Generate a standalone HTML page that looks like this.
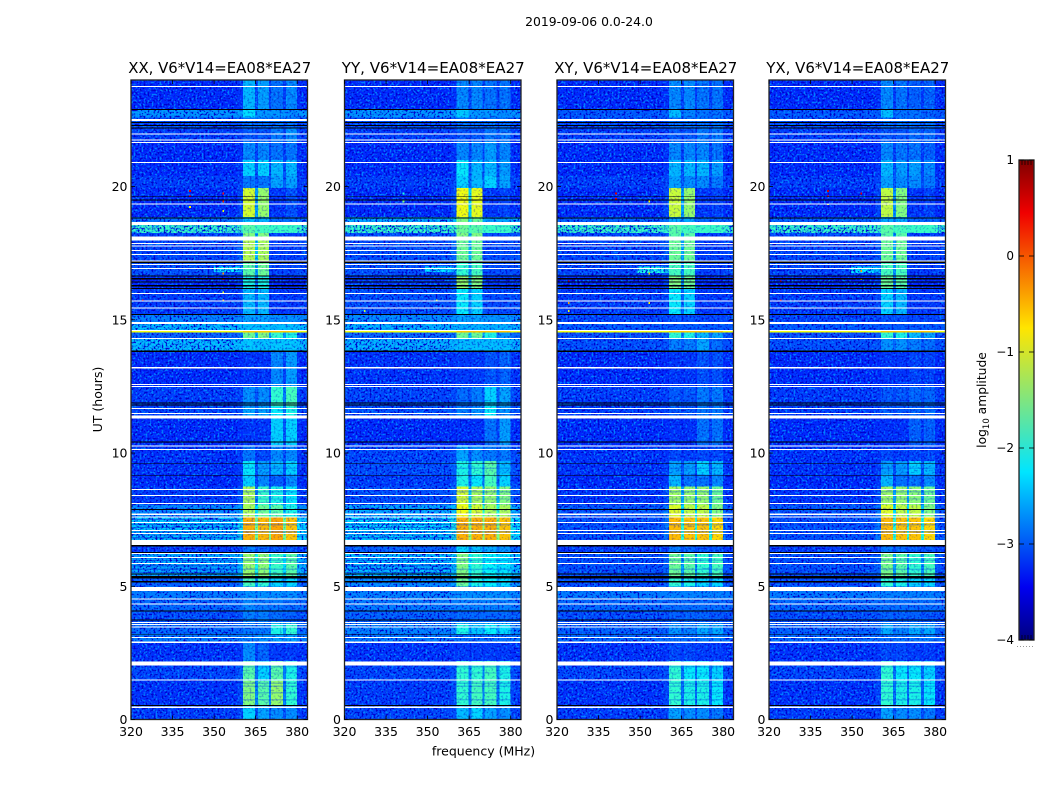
<!DOCTYPE html>
<html lang="en">
<head>
<meta charset="utf-8">
<title>2019-09-06 amplitude waterfall</title>
<style>
html,body{margin:0;padding:0;background:#fff;width:1050px;height:800px;overflow:hidden}
svg{display:block}
text{font-family:"DejaVu Sans","Liberation Sans",sans-serif;fill:#000}
</style>
</head>
<body>
<svg id="fig" width="1050" height="800" viewBox="0 0 1050 800" xmlns="http://www.w3.org/2000/svg">
  <defs>
    <filter id="speckleLight" x="0" y="0" width="100%" height="100%" color-interpolation-filters="sRGB">
      <feTurbulence type="fractalNoise" baseFrequency="0.5" numOctaves="1" seed="4"/>
      <feColorMatrix type="matrix" values="0 0 0 0 0  0 0 0 0 0.5  0 0 0 0 1  5 0 0 0 -2.4"/>
    </filter>
    <filter id="speckleDark" x="0" y="0" width="100%" height="100%" color-interpolation-filters="sRGB">
      <feTurbulence type="fractalNoise" baseFrequency="0.5" numOctaves="1" seed="11"/>
      <feColorMatrix type="matrix" values="0 0 0 0 0  0 0 0 0 0  0 0 0 0 0.8  0 5 0 0 -2.5"/>
    </filter>
    <linearGradient id="jetGradient" x1="0" y1="1" x2="0" y2="0"></linearGradient>
  </defs>
  <text x="589" y="26" font-size="12.4" text-anchor="middle">2019-09-06 0.0-24.0</text>
  <text transform="translate(102,399.5) rotate(-90)" font-size="12.5" text-anchor="middle">UT (hours)</text>
  <text x="483.5" y="755.5" font-size="12.5" text-anchor="middle">frequency (MHz)</text>
  <g id="panels"></g>
  <g id="colorbar"></g>
  <text transform="translate(986,400) rotate(-90)" font-size="12.3" text-anchor="middle">log<tspan font-size="8.5" dy="3">10</tspan><tspan dy="-3"> amplitude</tspan></text>
</svg>
<script>
// ---------- chart data ----------
var frequencyTicks = [320, 335, 350, 365, 380];
var hourTicks = [0, 5, 10, 15, 20];
var colorTicks = [-4, -3, -2, -1, 0, 1];
var panelNames = ["XX", "YY", "XY", "YX"];
var baselineLabel = "V6*V14=EA08*EA27";

// Spectral windows in MHz: [low, high]
var windowEdges = [[360.4, 364.8], [365.8, 369.8], [370.5, 374.9], [376, 380]];

// Rows: [start hour, end hour, background, window1, window2, window3, window4] log10 amplitude
var seriesXX = [
[0,0.5,-3.1,-2.2,-2.4,-2.5,-2.5],[0.5,1.45,-3.15,-1.5,-1.7,-1.4,-1.9],[1.45,2.2,-3.05,-1.7,-2.2,-1.7,-2.0],
[2.2,2.9,-3.15,-2.5,-2.7,-3.0,-3.0],[2.9,3.2,-2.75,-2.7,-2.6,-2.5,-2.5],[3.2,3.6,-2.85,-2.7,-2.7,-2.0,-1.9],
[3.6,4.1,-3.0,-2.6,-2.6,-2.7,-2.8],[4.1,4.5,-2.85,-2.6,-2.7,-2.7,-2.8],[4.5,5.0,-2.75,-2.6,-2.6,-2.6,-2.6],
[5.0,5.35,-2.9,-1.8,-1.9,-2.2,-2.2],[5.35,6.25,-2.5,-1.4,-1.45,-1.85,-1.7],[6.25,6.55,-3.1,-2.6,-2.7,-2.8,-2.8],
[6.55,7.6,-2.35,-0.5,-0.55,-0.45,-0.6],[7.6,8.05,-2.65,-1.3,-1.6,-1.7,-2.0],[8.05,8.75,-3.1,-1.3,-1.85,-2.0,-2.1],
[8.75,9.2,-3.2,-2.2,-2.5,-2.7,-2.5],[9.2,9.7,-3.15,-2.1,-2.4,-2.3,-2.2],[9.7,10.3,-3.15,-2.6,-2.9,-2.5,-2.5],
[10.3,11.3,-3.2,-3.0,-3.0,-2.2,-2.2],[11.3,11.75,-3.05,-2.4,-2.4,-2.1,-2.0],[11.75,12.5,-3.1,-2.5,-2.5,-1.9,-1.8],
[12.5,13.8,-3.2,-3.0,-3.0,-2.5,-2.4],[13.8,14.3,-2.4,-2.35,-2.4,-2.35,-2.35],[14.3,14.55,-2.9,-1.6,-1.5,-1.9,-2.0],
[14.55,14.9,-2.4,-2.4,-2.4,-2.4,-2.4],[14.9,15.2,-2.7,-2.5,-2.5,-2.6,-2.6],[15.2,16.2,-3.1,-2.3,-2.3,-3.1,-3.1],
[16.2,16.65,-3.2,-2.0,-2.0,-3.2,-3.2],[16.65,17.2,-3.0,-1.7,-1.6,-3.1,-3.1],[17.2,18.0,-3.05,-1.25,-1.3,-3.1,-3.1],
[18.0,18.25,-3.05,-1.5,-1.5,-3.1,-3.1],[18.25,18.55,-1.85,-1.7,-1.8,-1.85,-1.85],[18.55,18.85,-2.8,-2.3,-2.4,-2.8,-2.8],
[18.85,19.95,-3.2,-1.1,-1.4,-3.0,-2.8],[19.95,20.4,-3.1,-2.6,-2.6,-2.4,-2.4],[20.4,21,-3.2,-2.2,-2.2,-2.3,-2.3],
[21,21.7,-3.2,-2.5,-2.5,-2.6,-2.6],[21.7,22.2,-3.1,-2.8,-2.8,-2.6,-2.5],[22.2,22.6,-3.0,-2.7,-2.7,-2.7,-2.7],
[22.6,22.9,-2.6,-2.2,-2.6,-2.6,-2.7],[22.9,24,-3.2,-2.3,-2.4,-2.6,-2.5]];
var seriesYY = [
[0,0.5,-3.05,-2.3,-2.2,-2.4,-2.5],[0.5,1.45,-3.1,-1.9,-1.8,-1.8,-2.0],[1.45,2.2,-3.05,-1.9,-1.9,-1.8,-2.0],
[2.2,2.9,-3.15,-3.0,-3.0,-3.0,-3.0],[2.9,3.2,-2.75,-2.9,-2.9,-2.9,-2.9],[3.2,3.6,-2.7,-2.0,-2.3,-2.1,-2.2],
[3.6,4.1,-2.9,-2.8,-2.8,-2.8,-2.8],[4.1,4.5,-2.75,-2.7,-2.7,-2.7,-2.7],[4.5,5.0,-2.7,-2.6,-2.6,-2.6,-2.6],
[5.0,5.35,-2.65,-1.6,-2.0,-2.1,-2.2],[5.35,6.25,-2.4,-1.5,-1.9,-2.1,-2.2],[6.25,6.55,-2.9,-2.2,-2.3,-2.4,-2.5],
[6.55,7.6,-2.25,-0.5,-0.5,-0.5,-0.6],[7.6,8.05,-2.5,-0.95,-1.1,-1.3,-1.3],[8.05,8.75,-3.0,-1.1,-1.3,-1.4,-1.5],
[8.75,9.2,-3.1,-2.0,-2.1,-1.8,-2.2],[9.2,9.7,-3.0,-2.0,-1.9,-1.7,-2.3],[9.7,10.3,-3.05,-2.4,-2.5,-2.6,-2.6],
[10.3,11.3,-3.2,-3.1,-3.05,-2.6,-2.4],[11.3,11.75,-3.0,-2.6,-2.5,-2.1,-2.5],[11.75,12.5,-3.05,-2.7,-2.6,-2.2,-2.4],
[12.5,13.8,-3.15,-3.0,-3.0,-2.8,-2.7],[13.8,14.3,-2.45,-2.4,-2.4,-2.4,-2.4],[14.3,14.55,-2.85,-1.6,-1.6,-2.0,-2.5],
[14.55,14.9,-2.45,-2.5,-2.5,-2.5,-2.5],[14.9,15.2,-2.65,-2.5,-2.5,-2.6,-2.6],[15.2,16.2,-3.0,-2.1,-2.2,-3.0,-3.0],
[16.2,16.65,-3.1,-1.4,-1.5,-3.1,-3.1],[16.65,17.2,-3.0,-1.9,-1.8,-3.0,-3.0],[17.2,18.0,-3.0,-1.6,-1.6,-3.0,-3.0],
[18.0,18.25,-3.0,-1.5,-1.5,-3.0,-3.0],[18.25,18.55,-1.85,-1.6,-1.7,-1.85,-1.85],[18.55,18.85,-2.5,-1.5,-1.6,-2.6,-2.6],
[18.85,19.95,-3.2,-0.95,-1.0,-3.0,-2.9],[19.95,20.4,-3.1,-2.2,-2.3,-2.2,-2.4],[20.4,21,-3.2,-2.1,-2.3,-2.3,-2.4],
[21,21.7,-3.2,-2.5,-2.5,-2.4,-2.5],[21.7,22.2,-3.1,-2.8,-2.8,-2.6,-2.6],[22.2,22.6,-3.0,-2.7,-2.7,-2.7,-2.7],
[22.6,22.9,-2.6,-2.3,-2.6,-2.6,-2.7],[22.9,24,-3.2,-2.5,-2.5,-2.6,-2.6]];
var seriesXY = [
[0,0.5,-3.1,-2.4,-2.5,-2.5,-2.6],[0.5,1.45,-3.15,-1.9,-2.0,-2.0,-2.1],[1.45,2.2,-3.05,-1.9,-2.1,-2.1,-2.2],
[2.2,2.9,-3.15,-2.9,-2.9,-3.0,-3.0],[2.9,3.2,-2.85,-2.8,-2.8,-2.7,-2.7],[3.2,3.6,-2.9,-2.5,-2.6,-2.4,-2.4],
[3.6,4.1,-3.0,-2.8,-2.8,-2.8,-2.9],[4.1,4.5,-2.85,-2.8,-2.8,-2.8,-2.8],[4.5,5.0,-2.75,-2.7,-2.7,-2.7,-2.7],
[5.0,5.35,-3.0,-1.9,-2.0,-2.2,-2.2],[5.35,6.25,-3.0,-1.6,-1.7,-1.9,-1.8],[6.25,6.55,-3.1,-2.6,-2.7,-2.8,-2.8],
[6.55,7.6,-3.0,-0.55,-0.6,-0.6,-0.7],[7.6,8.05,-2.95,-1.05,-1.2,-1.2,-1.5],[8.05,8.75,-3.15,-1.35,-1.4,-1.4,-1.6],
[8.75,9.2,-3.2,-2.3,-2.6,-2.6,-2.5],[9.2,9.7,-3.15,-2.4,-2.4,-2.2,-2.3],[9.7,10.3,-3.15,-2.9,-3.0,-2.9,-2.9],
[10.3,11.3,-3.2,-3.05,-3.05,-2.6,-2.6],[11.3,11.75,-3.1,-2.8,-2.8,-2.6,-2.6],[11.75,12.5,-3.1,-2.8,-2.8,-2.6,-2.6],
[12.5,13.8,-3.2,-3.0,-3.0,-2.8,-2.8],[13.8,14.3,-3.0,-2.6,-2.6,-2.4,-2.7],[14.3,14.55,-3.0,-1.9,-2.0,-2.3,-2.4],
[14.55,14.9,-2.95,-2.9,-2.9,-2.9,-2.9],[14.9,15.2,-3.05,-2.9,-2.9,-3.0,-3.0],[15.2,16.2,-3.1,-2.1,-2.2,-3.1,-3.1],
[16.2,16.65,-3.2,-1.5,-1.6,-3.2,-3.2],[16.65,17.2,-3.05,-1.8,-1.8,-3.1,-3.1],[17.2,18.0,-3.05,-1.6,-1.6,-3.1,-3.1],
[18.0,18.25,-3.05,-1.7,-1.7,-3.1,-3.1],[18.25,18.55,-1.85,-1.7,-1.8,-1.85,-1.85],[18.55,18.85,-2.9,-2.4,-2.4,-2.8,-2.8],
[18.85,19.95,-3.2,-1.15,-1.4,-3.0,-2.9],[19.95,20.4,-3.1,-2.4,-2.5,-2.5,-2.6],[20.4,21,-3.2,-2.3,-2.3,-2.3,-2.4],
[21,21.7,-3.2,-2.5,-2.5,-2.5,-2.6],[21.7,22.2,-3.1,-2.8,-2.8,-2.6,-2.6],[22.2,22.6,-3.0,-2.7,-2.7,-2.7,-2.7],
[22.6,22.9,-2.95,-2.3,-2.6,-2.7,-2.7],[22.9,24,-3.2,-2.5,-2.5,-2.6,-2.6]];
var seriesYX = [
[0,0.5,-3.1,-2.4,-2.5,-2.5,-2.6],[0.5,1.45,-3.15,-1.9,-2.0,-2.0,-2.1],[1.45,2.2,-3.05,-1.9,-2.1,-2.1,-2.2],
[2.2,2.9,-3.15,-2.9,-2.9,-3.0,-3.0],[2.9,3.2,-2.85,-2.8,-2.8,-2.7,-2.7],[3.2,3.6,-2.9,-2.4,-2.6,-2.4,-2.4],
[3.6,4.1,-3.0,-2.8,-2.8,-2.8,-2.9],[4.1,4.5,-2.85,-2.8,-2.8,-2.8,-2.8],[4.5,5.0,-2.75,-2.7,-2.7,-2.7,-2.7],
[5.0,5.35,-3.0,-1.9,-2.0,-2.2,-2.2],[5.35,6.25,-3.0,-1.55,-1.7,-1.9,-1.8],[6.25,6.55,-3.1,-2.6,-2.7,-2.8,-2.8],
[6.55,7.6,-3.0,-0.55,-0.6,-0.6,-0.7],[7.6,8.05,-2.95,-1.05,-1.2,-1.2,-1.5],[8.05,8.75,-3.15,-1.35,-1.4,-1.45,-1.6],
[8.75,9.2,-3.2,-2.3,-2.6,-2.6,-2.5],[9.2,9.7,-3.15,-2.4,-2.4,-2.2,-2.3],[9.7,10.3,-3.15,-2.9,-3.0,-2.9,-2.9],
[10.3,11.3,-3.2,-3.05,-3.05,-2.7,-2.7],[11.3,11.75,-3.1,-2.8,-2.8,-2.7,-2.7],[11.75,12.5,-3.1,-2.8,-2.8,-2.7,-2.7],
[12.5,13.8,-3.2,-3.0,-3.0,-2.9,-2.9],[13.8,14.3,-3.0,-2.5,-2.5,-2.6,-2.7],[14.3,14.55,-3.0,-1.9,-2.0,-2.3,-2.4],
[14.55,14.9,-2.95,-2.9,-2.9,-2.9,-2.9],[14.9,15.2,-3.05,-2.9,-2.9,-3.0,-3.0],[15.2,16.2,-3.1,-2.2,-2.3,-3.1,-3.1],
[16.2,16.65,-3.2,-1.6,-1.7,-3.2,-3.2],[16.65,17.2,-3.05,-1.8,-1.8,-3.1,-3.1],[17.2,18.0,-3.05,-1.6,-1.6,-3.1,-3.1],
[18.0,18.25,-3.05,-1.7,-1.7,-3.1,-3.1],[18.25,18.55,-1.85,-1.7,-1.8,-1.85,-1.85],[18.55,18.85,-2.9,-2.4,-2.4,-2.8,-2.8],
[18.85,19.95,-3.2,-1.2,-1.5,-3.0,-2.9],[19.95,20.4,-3.1,-2.4,-2.5,-2.5,-2.6],[20.4,21,-3.2,-2.3,-2.4,-2.4,-2.5],
[21,21.7,-3.2,-2.5,-2.6,-2.6,-2.7],[21.7,22.2,-3.1,-2.8,-2.8,-2.7,-2.7],[22.2,22.6,-3.0,-2.7,-2.7,-2.7,-2.7],
[22.6,22.9,-2.95,-2.3,-2.7,-2.7,-2.8],[22.9,24,-3.2,-2.5,-2.6,-2.7,-2.7]];

// Flagged integrations shared by all baselines: [hour, duration in hours]
var flaggedWhite = [[0.46,.04],[1.48,.05],[2.02,.16],[2.9,.04],[3.07,.04],[3.47,.04],[3.57,.04],[3.64,.04],[4.34,.04],[4.52,.04],[4.83,.14],[5.86,.04],[6.08,.04],[6.23,.04],[6.55,.18],[6.98,.04],[7.1,.04],[7.4,.04],[7.6,.05],[7.7,.05],[8.1,.04],[8.4,.04],[8.63,.04],[10.13,.04],[10.27,.04],[11.3,.1],[11.48,.04],[11.67,.04],[12.5,.04],[12.57,.04],[13.2,.04],[14.3,.04],[14.6,.04],[14.88,.07],[15.44,.04],[15.7,.04],[15.98,.04],[16.92,.04],[17.07,.04],[17.2,.04],[17.45,.04],[17.6,.04],[17.77,.04],[17.86,.04],[17.98,.15],[18.55,.12],[19.35,.04],[20.9,.04],[21.66,.04],[21.75,.04],[21.98,.04],[22.5,.07],[23.75,.04]];
var flaggedBlack = [[0.52,.03],[3.2,.03],[3.73,.04],[4.07,.04],[5.17,.04],[5.3,.09],[5.46,.04],[6.27,.04],[6.52,.04],[7.88,.04],[9.17,.03],[9.6,.03],[10.42,.03],[11.8,.04],[11.87,.04],[13.82,.07],[15.2,.03],[16.18,.04],[16.27,.04],[16.3,.03],[16.42,.04],[16.54,.04],[16.64,.04],[17.16,.04],[18.82,.03],[19.5,.03],[19.64,.03],[22.2,.04],[22.3,.04],[22.4,.04],[22.9,.04]];

// Narrow bright RFI line near 14.5 h: [hour, background, windows]
var rfiLine = [14.53, -0.95, -0.6];
// Background ripple rows on XX and YY: hour
var rippleHours = [5.5,5.62,5.75,5.95,6.05,6.8,6.9,7.02,7.18,7.3,7.48];
// Dark ripple rows across the spectral windows: hour
var windowRippleHours = [0.72,0.98,1.22,1.33,1.72,1.95,5.62,5.95,7.02,7.28,8.25,8.52,9.4];
// Isolated hot pixels: [panel index, MHz, hour, log10 amplitude]
var hotPixels = [
[0,353,19.05,-1],[0,353,19.4,0.2],[0,353,19.7,0.3],[0,341,19.8,0.5],[0,341,19.6,0.4],[0,341,19.2,-0.8],[0,353,16.0,-1],[0,353,16.7,-0.3],[0,353,16.5,0.2],[0,324,16.5,0.6],[0,324,15.7,0.5],[0,353,15.7,-0.6],
[2,341,19.5,0.5],[2,341,19.7,0.6],[2,353,19.4,-0.9],[2,353,16.9,-2],[2,353,16.7,-0.5],[2,324,16.4,0.6],[2,324,15.6,-0.4],[2,353,15.6,-0.8],[2,324,15.3,-1],
[3,341,19.6,0.5],[3,341,19.8,0.6],[3,341,19.3,-1],[3,353,19.7,0.5],[3,353,16.8,-0.4],[3,324,16.4,0.6],[3,324,15.7,0.5],[3,353,16.5,-1],
[1,341,19.4,-1.5],[1,341,19.7,-2],[1,353,15.7,-1],[1,327,15.3,-1.2]];
// Faint interference patch near 17 h: [panel index, low MHz, high MHz, start hour, end hour, level]
var rfiPatches = [[0,350,361,16.8,17.0,-2.1],[1,349,361,16.8,17.0,-2.2],[2,349,361,16.75,17.0,-2.0],[3,349,361,16.75,17.0,-2.2]];

// ---------- layout ----------
var NS = "http://www.w3.org/2000/svg";
var panelLeft = [131, 344.5, 557, 769];
var panelWidth = 176.5;
var plotTop = 80;
var plotBottom = 719.5;
var maxHour = 24;
var minFreq = 320;
var pxPerMHz = 2.77;
var maxFreq = minFreq + panelWidth / pxPerMHz;
var panelSeries = [seriesXX, seriesYY, seriesXY, seriesYX];
var panelRipple = [true, true, false, false];

function yScale(h) { return plotBottom - (h / maxHour) * (plotBottom - plotTop); }
function xScale(i, f) { return panelLeft[i] + (f - minFreq) * pxPerMHz; }
function jet(v) {
  var t = Math.max(0, Math.min(1, (v + 4) / 5));
  function c(x) { return Math.round(255 * Math.max(0, Math.min(1, x))); }
  return "rgb(" + c(1.5 - Math.abs(4 * t - 3)) + "," + c(1.5 - Math.abs(4 * t - 2)) + "," + c(1.5 - Math.abs(4 * t - 1)) + ")";
}
function cellOpacity(v) { return Math.max(0.3, Math.min(1, 0.45 + (v + 2.9) * 0.55)); }
function el(parent, tag, attrs) {
  var e = document.createElementNS(NS, tag);
  for (var k in attrs) e.setAttribute(k, attrs[k]);
  parent.appendChild(e);
  return e;
}
function fillRect(parent, i, f0, f1, h0, h1, fill) {
  return el(parent, "rect", {
    x: xScale(i, f0), width: Math.max(0, xScale(i, f1) - xScale(i, f0)),
    y: yScale(h1), height: Math.max(0, yScale(h0) - yScale(h1)),
    fill: fill, "shape-rendering": "crispEdges"
  });
}
function flagStart(r) { return r[1] < 0.08 ? r[0] - r[1] / 2 : r[0]; }

var panelsRoot = document.getElementById("panels");
panelNames.forEach(function (name, i) {
  var L = panelLeft[i], key = name.toLowerCase();
  var g = el(panelsRoot, "g", {});
  
  

  var clip = el(g, "clipPath", { id: "clip" + i });
  el(clip, "rect", { x: L, y: plotTop, width: panelWidth, height: plotBottom - plotTop });
  var body = el(g, "g", { "clip-path": "url(#clip" + i + ")" });

  // background bands, drawn under the strong speckle
  panelSeries[i].forEach(function (row) {
    var band = fillRect(body, i, minFreq, maxFreq, row[0], row[1], jet(row[2]));
    
    
  });
  if (panelRipple[i]) {
    rippleHours.forEach(function (h) {
      var r = fillRect(body, i, minFreq, windowEdges[0][0], h, h + 0.04, "rgba(0,40,220,0.55)");
      
      
    });
  }
  rfiPatches.forEach(function (p) {
    if (p[0] !== i) return;
    var r = fillRect(body, i, p[1], p[2], p[3], p[4], jet(p[5]));
    
    
  });

  // pixel speckle texture on the background
  var n1 = el(body, "rect", { x: L, y: plotTop, width: panelWidth, height: plotBottom - plotTop, filter: "url(#speckleLight)" });
  
  
  var n2 = el(body, "rect", { x: L, y: plotTop, width: panelWidth, height: plotBottom - plotTop, filter: "url(#speckleDark)" });
  
  

  // spectral window cells, translucent when faint so the speckle shows through
  panelSeries[i].forEach(function (row) {
    var h0 = row[0], h1 = row[1], bg = row[2];
    var w = row.slice(3);
    var halo = fillRect(body, i, windowEdges[0][0] - 2, windowEdges[0][0], h0, h1, jet(bg * 0.8 + w[0] * 0.2));
    
    
    halo.setAttribute('opacity', '0.35');
    var tail = fillRect(body, i, windowEdges[3][1], windowEdges[3][1] + 1.2, h0, h1, jet(bg * 0.85 + w[3] * 0.15));
    
    
    tail.setAttribute('opacity', '0.35');
    w.forEach(function (v, k) {
      var cell = fillRect(body, i, windowEdges[k][0], windowEdges[k][1], h0, h1, jet(v));
      
      
      cell.setAttribute('opacity', cellOpacity(v));
      if (k < 3) {
        var gapLevel = bg + 0.45 * (Math.min(v, w[k + 1]) - bg);
        var gap = fillRect(body, i, windowEdges[k][1], windowEdges[k + 1][0], h0, h1, jet(gapLevel));
        
        
        gap.setAttribute('opacity', cellOpacity(gapLevel));
      }
    });
  });
  windowRippleHours.forEach(function (h) {
    var r = fillRect(body, i, windowEdges[0][0], windowEdges[3][1], h, h + 0.05, "rgba(0,70,230,0.3)");
    
    
  });

  // faint speckle over the windows
  var n3 = el(body, "rect", { x: xScale(i, windowEdges[0][0]), y: plotTop, width: (windowEdges[3][1] - windowEdges[0][0]) * pxPerMHz, height: plotBottom - plotTop, filter: "url(#speckleDark)", opacity: 0.28 });
  
  

  hotPixels.forEach(function (p) {
    if (p[0] !== i) return;
    var d = fillRect(body, i, p[1], p[1] + 0.6, p[2], p[2] + 0.07, jet(p[3]));
    
    
  });

  // RFI line
  var rl = fillRect(body, i, minFreq, maxFreq, rfiLine[0], rfiLine[0] + 0.05, jet(rfiLine[1]));
  
  
  var rw = fillRect(body, i, windowEdges[0][0], windowEdges[3][1], rfiLine[0], rfiLine[0] + 0.05, jet(rfiLine[2]));
  
  

  // flagged rows
  flaggedBlack.forEach(function (r) {
    var b = fillRect(body, i, minFreq, maxFreq, flagStart(r), flagStart(r) + r[1], "#000");
    
    
  });
  flaggedWhite.forEach(function (r) {
    var b = fillRect(body, i, minFreq, maxFreq, flagStart(r), flagStart(r) + r[1], "#fff");
    
    
  });

  // frame
  var frame = el(g, "rect", { x: L, y: plotTop, width: panelWidth, height: plotBottom - plotTop, fill: "none", stroke: "#222", "stroke-width": 1.3 });
  
  

  // x ticks
  frequencyTicks.forEach(function (f) {
    var x = xScale(i, f);
    var t1 = el(g, "line", { x1: x, x2: x, y1: plotBottom, y2: plotBottom - 4, stroke: "#000", "stroke-width": 0.8 });
    
    
    var t2 = el(g, "line", { x1: x, x2: x, y1: plotTop, y2: plotTop + 4, stroke: "#000", "stroke-width": 0.8 });
    
    
    var lab = el(g, "text", { x: x, y: 736, "font-size": 12.5, "text-anchor": "middle" });
    
    
    lab.textContent = f;
  });
  // y ticks
  hourTicks.forEach(function (h) {
    var y = yScale(h);
    var t1 = el(g, "line", { x1: L, x2: L + 4, y1: y, y2: y, stroke: "#000", "stroke-width": 0.8 });
    
    
    var t2 = el(g, "line", { x1: L + panelWidth, x2: L + panelWidth - 4, y1: y, y2: y, stroke: "#000", "stroke-width": 0.8 });
    
    
    var lab = el(g, "text", { x: L - 3.5, y: y + 4.5, "font-size": 12.5, "text-anchor": "end" });
    
    
    lab.textContent = h;
  });
  // title
  var title = el(g, "text", { x: L + panelWidth / 2 + 0.5, y: 73, "font-size": 15, "text-anchor": "middle", textLength: 183, lengthAdjust: "spacingAndGlyphs" });
  
  
  title.textContent = name + ", " + baselineLabel;
});

// ---------- colorbar ----------
var cbar = document.getElementById("colorbar");
var cbLeft = 1019, cbRight = 1034, cbTop = 160, cbBottom = 640;
function cbY(v) { return cbBottom - (v + 4) / 5 * (cbBottom - cbTop); }
var grad = document.getElementById("jetGradient");
var gradientStops = [-4, -3.45, -2.25, -0.75, 0.45, 1];
gradientStops.forEach(function (v) {
  el(grad, "stop", { offset: ((v + 4) / 5), "stop-color": jet(v) });
});
var cbRect = el(cbar, "rect", { x: cbLeft, y: cbTop, width: cbRight - cbLeft, height: cbBottom - cbTop, fill: "url(#jetGradient)", stroke: "#222", "stroke-width": 1.3 });


colorTicks.forEach(function (v) {
  var y = cbY(v);
  var a = el(cbar, "line", { x1: cbLeft, x2: cbLeft + 5, y1: y, y2: y, stroke: "#000", "stroke-width": 0.8 });
  
  
  var b = el(cbar, "line", { x1: cbRight, x2: cbRight - 5, y1: y, y2: y, stroke: "#000", "stroke-width": 0.8 });
  
  
  var lab = el(cbar, "text", { x: 1014, y: y + 4, "font-size": 12, "text-anchor": "end" });
  
  
  lab.textContent = String(v).replace("-", "\u2212");
});
[1, 2, 3, 4].forEach(function (k) {
  var x = cbLeft + k * 3;
  var a = el(cbar, "line", { x1: x, x2: x, y1: cbTop, y2: cbTop + 5, stroke: "#000", "stroke-width": 0.7 });
  
  
  var b = el(cbar, "line", { x1: x, x2: x, y1: cbBottom, y2: cbBottom - 5, stroke: "#000", "stroke-width": 0.7 });
  
  
});
var dots = el(cbar, "line", { x1: 1017, x2: 1035, y1: 646.5, y2: 646.5, stroke: "#999", "stroke-width": 1, "stroke-dasharray": "1 2" });


</script>
</body>
</html>
